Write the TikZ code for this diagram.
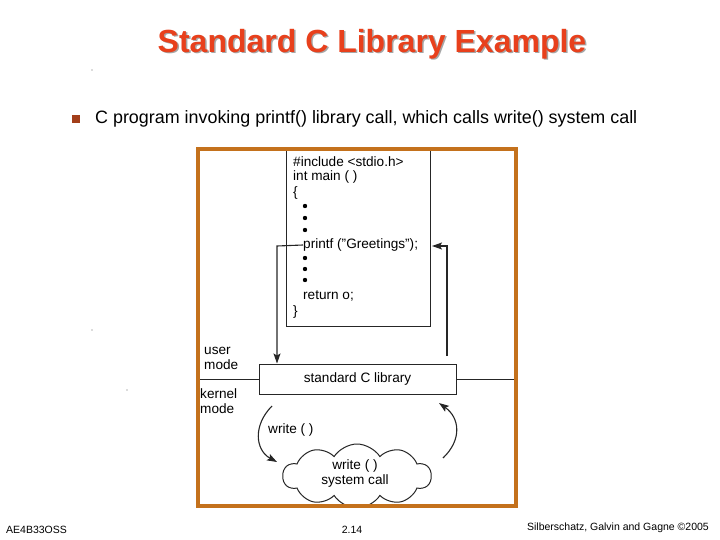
\documentclass[tikz,border=0pt]{standalone}
\usepackage{fontspec}
\setmainfont{Liberation Sans}
\usetikzlibrary{arrows.meta,shapes.symbols}
\definecolor{frameor}{HTML}{C4711C}
\definecolor{titlered}{HTML}{E8401C}
\definecolor{bulletred}{HTML}{A33E1A}
\begin{document}
\begin{tikzpicture}[x=1pt,y=-1pt,
  codetxt/.style={anchor=west,inner sep=0pt,font=\fontsize{13.6}{15}\selectfont},
  lbl/.style={inner sep=0pt,font=\fontsize{13.6}{15}\selectfont,align=left},
  conn/.style={draw=black!85,line width=1.1pt},
  tip/.style={-{Stealth[length=10pt,width=7pt,inset=2pt]}},
  codedot/.style={circle,fill=black,inner sep=0pt,minimum size=4.4pt},
  foot/.style={inner sep=0pt,font=\fontsize{10.5}{12}\selectfont}]
\useasboundingbox (0,0) rectangle (720,540);
% title
\node[text=black!35,font=\fontsize{32}{38}\bfseries\selectfont] at (373.5,45.5) {Standard C Library Example};
\node (title) [text=titlered,font=\fontsize{32}{38}\bfseries\selectfont] at (372,44) {Standard C Library Example};
% bullet
\node (bul) [fill=bulletred,minimum size=8.5pt,inner sep=0pt] at (76,119) {};
\node (btxt) [anchor=west,inner sep=0pt,font=\fontsize{17.9}{21}\selectfont] at (95,119) {C program invoking printf() library call, which calls write() system call};
% tiny dots
\fill[black!60] (92,70) circle (0.6pt);
\fill[black!60] (92,330) circle (0.6pt);
\fill[black!60] (127,390) circle (0.6pt);
% code box
\draw[black!85,line width=1pt] (286,150) rectangle (430,326);
\node (l1) [codetxt] at (293,162) {\#include <stdio.h>};
\node (l2) [codetxt] at (293,177) {int main ( )};
\node (l3) [codetxt] at (293,193) {\{};
\node (d1) [codedot] at (305,206) {};
\node (d2) [codedot] at (305,218) {};
\node (d3) [codedot] at (305,230) {};
\node (printf) [codetxt] at (303,245) {printf ("Greetings");};
\node (d4) [codedot] at (305,258) {};
\node (d5) [codedot] at (305,269) {};
\node (d6) [codedot] at (305,280) {};
\node (ret) [codetxt] at (303,296) {return o;};
\node (l9) [codetxt] at (293,312) {\}};
% library box and mode line
\node (lib) [draw=black!85,line width=1pt,minimum width=197pt,minimum height=30pt,inner sep=0pt,font=\fontsize{13.6}{15}\selectfont] at (357.5,379) {standard C library};
\coordinate (ml) at (200,379);
\coordinate (mr) at (514,379);
\draw[black!85,line width=1pt] (ml) -- (lib.west);
\draw[black!85,line width=1pt] (lib.east) -- (mr);
\node (user) [lbl,anchor=west] at (204,358.5) {user\\mode};
\node (kern) [lbl,anchor=west] at (200,401.5) {kernel\\mode};
% connectors
\coordinate (pl) at (277,246);
\draw[conn,tip] (printf.west) -- (pl) -- (pl |- lib.north);
\coordinate (rs) at (447,356);
\coordinate (rc) at (447,246);
\draw[conn,tip] (rs) -- (rc) -- (432,246);
% cloud
\begin{scope}
\clip (200,151) rectangle (514,504);
\node (cloud) [cloud,draw=black!85,line width=1pt,fill=white,cloud puffs=10,cloud puff arc=115,aspect=2.5,minimum width=148pt,minimum height=64pt,inner sep=0pt] at (357,476) {};
\end{scope}
\node (sys) [inner sep=0pt,font=\fontsize{13.6}{15.5}\selectfont,align=center] at (355,473.5) {write ( )\\system call};
% curved arrows
\coordinate (a1) at (272,406);
\coordinate (a2) at (277,462);
\draw[conn,tip] (a1) .. controls (253,425) and (255,450) .. (a2);
\node (wr) [lbl,anchor=west] at (268,430) {write ( )};
\coordinate (b1) at (443,458);
\coordinate (b2) at (439,403);
\draw[conn,tip] (b1) .. controls (462,440) and (460,418) .. (b2);
% frame
\draw[frameor,line width=4pt] (198,149.5) rectangle (516,506);
% footer
\node (f1) [foot,anchor=west] at (6,530) {AE4B33OSS};
\node (f2) [foot] at (352,530) {2.14};
\node (f3) [foot,anchor=east] at (709,528) {Silberschatz, Galvin and Gagne \textcopyright 2005};
\end{tikzpicture}
\end{document}
